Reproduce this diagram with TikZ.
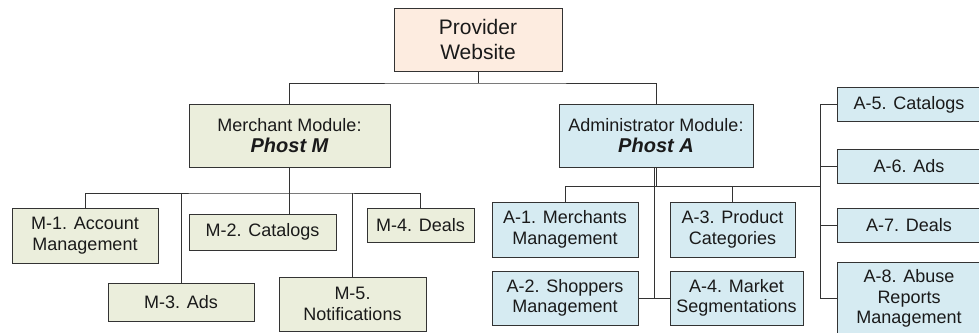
\documentclass[tikz,border=0pt]{standalone}
\usepackage{fontspec}
\setmainfont{Liberation Sans}
\definecolor{provfill}{HTML}{FDECE0}
\definecolor{merfill}{HTML}{EBEEDC}
\definecolor{admfill}{HTML}{D6EBF2}
\definecolor{linecol}{HTML}{333333}
\definecolor{txtcol}{HTML}{1A1A1A}
\tikzset{
  box/.style={draw=linecol, line width=1pt, inner sep=0pt, align=center, text=txtcol,
    font=\fontsize{18}{20.5}\selectfont},
  mbox/.style={box, fill=merfill},
  abox/.style={box, fill=admfill},
  conn/.style={draw=linecol, line width=1pt}
}
\begin{document}
\begin{tikzpicture}[x=1pt,y=-1pt]
\useasboundingbox (0,0) rectangle (979,332);
\clip (0,0) rectangle (979,332);
\fill[white] (0,0) rectangle (979,332);
% top
\node[box, fill=provfill, minimum width=168pt, minimum height=63pt,
  font=\fontsize{21}{25}\selectfont] (prov) at (478,39.5) {Provider\\Website};
\node[mbox, minimum width=201pt, minimum height=63pt] (merch) at (289.5,135.5)
  {\fontsize{18}{23}\selectfont Merchant Module:\\\fontsize{20}{23}\selectfont\bfseries\itshape Phost M};
\node[abox, minimum width=194pt, minimum height=63pt] (admin) at (656,135.5)
  {\fontsize{18}{23}\selectfont Administrator Module:\\\fontsize{20}{23}\selectfont\bfseries\itshape Phost A};
% merchant children
\node[mbox, minimum width=146pt, minimum height=55pt] (m1) at (85,235.5) {M-1. Account\\Management};
\node[mbox, minimum width=147pt, minimum height=36pt] (m2) at (262.5,232) {M-2. Catalogs};
\node[mbox, minimum width=146pt, minimum height=38pt] (m3) at (181,302) {M-3. Ads};
\node[mbox, minimum width=107pt, minimum height=34pt] (m4) at (420.5,225) {M-4. Deals};
\node[mbox, minimum width=147pt, minimum height=54pt] (m5) at (352.5,304) {M-5.\\Notifications};
% admin children
\node[abox, minimum width=146pt, minimum height=55pt] (a1) at (565,229.5) {A-1. Merchants\\Management};
\node[abox, minimum width=146pt, minimum height=54pt] (a2) at (565,298) {A-2. Shoppers\\Management};
\node[abox, minimum width=125pt, minimum height=55pt] (a3) at (732.5,229.5) {A-3. Product\\Categories};
\node[abox, minimum width=133pt, minimum height=54pt] (a4) at (736.5,298) {A-4. Market\\Segmentations};
\node[abox, minimum width=144pt, minimum height=34pt] (a5) at (909,104.5) {A-5. Catalogs};
\node[abox, minimum width=144pt, minimum height=34pt] (a6) at (909,166.5) {A-6. Ads};
\node[abox, minimum width=144pt, minimum height=34pt] (a7) at (909,225) {A-7. Deals};
\node[abox, minimum width=144pt, minimum height=73pt] (a8) at (909,298.5) {A-8. Abuse\\Reports\\Management};
% coordinates
\coordinate (pbus) at (478,83);
\coordinate (mbus) at (289.5,193);
\coordinate (abus) at (821,186);
\coordinate (a24) at (654,298);
% top connectors
\draw[conn] (prov.south) -- (pbus);
\draw[conn] (merch.north) |- (pbus) -| (admin.north);
% merchant connectors
\draw[conn] (merch.south) -- (merch.south |- m2.north);
\draw[conn] (m1.north) |- (mbus) -| (m4.north);
\draw[conn] (m3.north) -- (m3.north |- mbus);
\draw[conn] (m5.north) -- (m5.north |- mbus);
% admin connectors
\draw[conn] (admin.south) -- (admin.south |- abus);
\draw[conn] (a1.north) |- (abus);
\draw[conn] (a3.north) -- (a3.north |- abus);
\draw[conn] ([xshift=-2pt]admin.south) -- (a24);
\draw[conn] (a2.east) -- (a4.west);
\draw[conn] (a5.west) -| ([xshift=-16pt]a8.west) -- (a8.west);
\draw[conn] (a6.west) -- ++(-16,0);
\draw[conn] (a7.west) -- ++(-16,0);
\end{tikzpicture}
\end{document}
